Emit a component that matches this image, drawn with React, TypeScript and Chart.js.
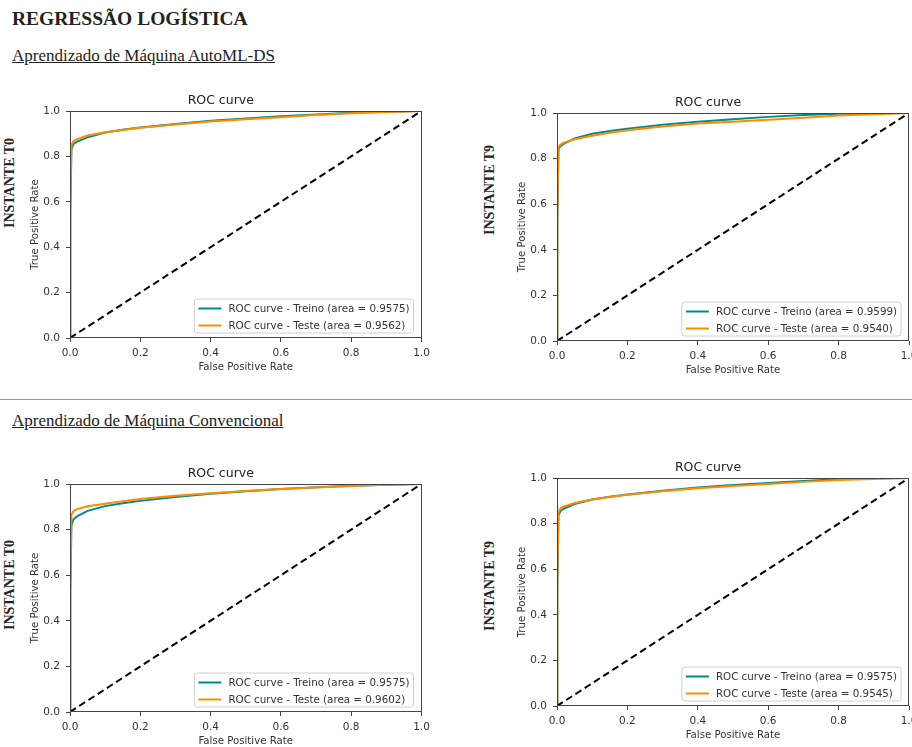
import React, { useEffect, useRef } from "react";
import { Chart, registerables } from "chart.js";

Chart.register(...registerables);

// ---------- data ----------
const fprGrid = [0, 0.001, 0.004, 0.01, 0.02, 0.05, 0.1, 0.15, 0.2, 0.3, 0.4, 0.5, 0.6, 0.7, 0.8, 0.9, 1.0];

const automlT0Treino = [0, 0.55, 0.83, 0.855, 0.865, 0.884, 0.905, 0.917, 0.927, 0.943, 0.957, 0.967, 0.977, 0.985, 0.992, 0.997, 1];
const automlT0Teste = [0, 0.6, 0.85, 0.868, 0.876, 0.892, 0.906, 0.916, 0.926, 0.941, 0.954, 0.964, 0.973, 0.982, 0.99, 0.996, 1];
const automlT9Treino = [0, 0.5, 0.84, 0.856, 0.866, 0.888, 0.909, 0.921, 0.931, 0.948, 0.962, 0.973, 0.983, 0.991, 0.997, 0.999, 1];
const automlT9Teste = [0, 0.55, 0.85, 0.862, 0.87, 0.885, 0.9, 0.913, 0.924, 0.941, 0.954, 0.962, 0.97, 0.979, 0.989, 0.995, 1];
const convT0Treino = [0, 0.52, 0.82, 0.845, 0.858, 0.882, 0.903, 0.916, 0.926, 0.943, 0.957, 0.968, 0.978, 0.986, 0.992, 0.997, 1];
const convT0Teste = [0, 0.55, 0.865, 0.882, 0.89, 0.902, 0.913, 0.924, 0.934, 0.948, 0.959, 0.969, 0.978, 0.985, 0.991, 0.997, 1];
const convT9Treino = [0, 0.5, 0.835, 0.855, 0.866, 0.886, 0.906, 0.918, 0.928, 0.944, 0.958, 0.969, 0.978, 0.987, 0.995, 0.999, 1];
const convT9Teste = [0, 0.55, 0.85, 0.868, 0.875, 0.89, 0.906, 0.917, 0.927, 0.942, 0.955, 0.965, 0.974, 0.983, 0.991, 0.996, 1];

const aucTreino = ["0.9575", "0.9599", "0.9575", "0.9575"];
const aucTeste = ["0.9562", "0.9540", "0.9602", "0.9545"];

const chanceX = [0, 1];
const chanceY = [0, 1];

const axisTicks = [0, 0.2, 0.4, 0.6, 0.8, 1.0];

const pageTitle = "REGRESSÃO LOGÍSTICA";
const sectionTitles = ["Aprendizado de Máquina AutoML-DS", "Aprendizado de Máquina Convencional"];
const instantLabels = ["INSTANTE T0", "INSTANTE T9"];

// ---------- styles ----------
const TEAL = "#008b8b";
const ORANGE = "#ff8c00";
const SANS = "'DejaVu Sans', sans-serif";
const SERIF = "'Liberation Serif', 'Times New Roman', serif";

const framePlugin = {
  id: "frame",
  afterDatasetsDraw(chart: any) {
    const { ctx, chartArea } = chart;
    ctx.save();
    ctx.strokeStyle = "#444";
    ctx.lineWidth = 1;
    ctx.strokeRect(
      Math.round(chartArea.left) + 0.5,
      Math.round(chartArea.top) + 0.5,
      Math.round(chartArea.right - chartArea.left) - 1,
      Math.round(chartArea.bottom - chartArea.top) - 1
    );
    ctx.restore();
  },
};

const legendPlugin = {
  id: "rocLegend",
  afterDraw(chart: any) {
    const { ctx, chartArea } = chart;
    const items = chart.data.datasets.filter((d: any) => d.inLegend);
    ctx.save();
    ctx.font = `10.3px ${SANS}`;
    const textW = Math.max(...items.map((d: any) => ctx.measureText(d.label).width));
    const w = 34 + textW + 4;
    const h = 34;
    const x = chartArea.right - 8 - w;
    const y = chartArea.bottom - 5 - h;
    ctx.beginPath();
    const r = 3;
    ctx.moveTo(x + r, y);
    ctx.lineTo(x + w - r, y);
    ctx.quadraticCurveTo(x + w, y, x + w, y + r);
    ctx.lineTo(x + w, y + h - r);
    ctx.quadraticCurveTo(x + w, y + h, x + w - r, y + h);
    ctx.lineTo(x + r, y + h);
    ctx.quadraticCurveTo(x, y + h, x, y + h - r);
    ctx.lineTo(x, y + r);
    ctx.quadraticCurveTo(x, y, x + r, y);
    ctx.closePath();
    ctx.fillStyle = "rgba(255,255,255,0.85)";
    ctx.fill();
    ctx.strokeStyle = "#d0d0d0";
    ctx.lineWidth = 1;
    ctx.stroke();
    items.forEach((d: any, i: number) => {
      const cy = y + 9.5 + i * 17;
      ctx.beginPath();
      ctx.strokeStyle = d.borderColor;
      ctx.lineWidth = 2;
      ctx.moveTo(x + 4, cy);
      ctx.lineTo(x + 27, cy);
      ctx.stroke();
      ctx.fillStyle = "#333";
      ctx.textBaseline = "middle";
      ctx.textAlign = "left";
      ctx.fillText(d.label, x + 34, cy + 0.5);
    });
    ctx.restore();
  },
};

type PanelProps = {
  left: number;
  top: number;
  width: number;
  height: number;
  padRight: number;
  treino: number[];
  teste: number[];
  auc1: string;
  auc2: string;
};

function RocPanel(p: PanelProps) {
  const ref = useRef<HTMLCanvasElement | null>(null);
  useEffect(() => {
    if (!ref.current) return;
    const tickFont = { family: SANS, size: 10.5 };
    const titleFont = { family: SANS, size: 10.2 };
    const chart = new Chart(ref.current, {
      type: "line",
      data: {
        datasets: [
          {
            label: `ROC curve - Treino (area = ${p.auc1})`,
            data: fprGrid.map((x, i) => ({ x, y: p.treino[i] })),
            borderColor: TEAL,
            backgroundColor: TEAL,
            borderWidth: 2,
            pointRadius: 0,
            tension: 0,
            order: 2,
            inLegend: true,
          } as any,
          {
            label: `ROC curve - Teste (area = ${p.auc2})`,
            data: fprGrid.map((x, i) => ({ x, y: p.teste[i] })),
            borderColor: ORANGE,
            backgroundColor: ORANGE,
            borderWidth: 2,
            pointRadius: 0,
            tension: 0,
            order: 1,
            inLegend: true,
          } as any,
          {
            label: "chance",
            data: chanceX.map((x, i) => ({ x, y: chanceY[i] })),
            borderColor: "#000",
            borderWidth: 2,
            borderDash: [7, 4],
            pointRadius: 0,
            order: 0,
            inLegend: false,
          } as any,
        ],
      },
      options: {
        animation: false,
        responsive: false,
        events: [],
        layout: { padding: { left: 0, right: p.padRight, top: 0, bottom: 0 } },
        plugins: {
          legend: { display: false },
          tooltip: { enabled: false },
          title: {
            display: true,
            text: "ROC curve",
            color: "#222",
            font: { family: SANS, size: 12.5, weight: "normal" },
            padding: { top: 5, bottom: 3 },
          },
        },
        scales: {
          x: {
            type: "linear",
            min: 0,
            max: 1,
            afterBuildTicks: (s: any) => {
              s.ticks = axisTicks.map((v) => ({ value: v }));
            },
            afterFit: (s: any) => {
              s.height = 40;
              s.paddingLeft = 0;
              s.paddingRight = 0;
            },
            ticks: {
              callback: (v: any) => Number(v).toFixed(1),
              font: tickFont,
              color: "#333",
              padding: 4.5,
              maxRotation: 0,
              autoSkip: false,
            },
            grid: { drawOnChartArea: false, drawTicks: true, tickLength: 4, color: "#444" },
            border: { display: false },
            title: {
              display: true,
              text: "False Positive Rate",
              color: "#333",
              font: titleFont,
              padding: { top: 0, bottom: 5 },
            },
          },
          y: {
            type: "linear",
            min: 0,
            max: 1,
            afterBuildTicks: (s: any) => {
              s.ticks = axisTicks.map((v) => ({ value: v }));
            },
            afterFit: (s: any) => {
              s.width = 50;
              s.paddingTop = 0;
              s.paddingBottom = 0;
            },
            ticks: {
              callback: (v: any) => Number(v).toFixed(1),
              font: tickFont,
              color: "#333",
              padding: 6,
              autoSkip: false,
            },
            grid: { drawOnChartArea: false, drawTicks: true, tickLength: 4, color: "#444" },
            border: { display: false },
            title: {
              display: true,
              text: "True Positive Rate",
              color: "#333",
              font: titleFont,
              padding: { top: 9, bottom: 0 },
            },
          },
        },
      } as any,
      plugins: [framePlugin, legendPlugin],
    });
    return () => chart.destroy();
  }, []);
  return (
    <canvas
      ref={ref}
      width={p.width}
      height={p.height}
      style={{ position: "absolute", left: p.left, top: p.top, width: p.width, height: p.height, display: "block" }}
    />
  );
}

function RotLabel({ text, cx, cy }: { text: string; cx: number; cy: number }) {
  return (
    <div
      style={{
        position: "absolute",
        left: cx,
        top: cy,
        transform: "translate(-50%, -50%) rotate(-90deg)",
        whiteSpace: "nowrap",
        fontFamily: SERIF,
        fontWeight: "bold",
        fontSize: 14,
        lineHeight: "14px",
        color: "#222",
      }}
    >
      {text}
    </div>
  );
}

export default function App() {
  const panels = [
    { left: 20, top: 88, width: 410, height: 290, padRight: 8.5, treino: automlT0Treino, teste: automlT0Teste, auc1: aucTreino[0], auc2: aucTeste[0] },
    { left: 507, top: 90, width: 405, height: 291, padRight: 3, treino: automlT9Treino, teste: automlT9Teste, auc1: aucTreino[1], auc2: aucTeste[1] },
    { left: 20, top: 461, width: 410, height: 291, padRight: 8.5, treino: convT0Treino, teste: convT0Teste, auc1: aucTreino[2], auc2: aucTeste[2] },
    { left: 507, top: 455, width: 405, height: 291, padRight: 3, treino: convT9Treino, teste: convT9Teste, auc1: aucTreino[3], auc2: aucTeste[3] },
  ];
  const subStyle: React.CSSProperties = {
    position: "absolute",
    left: 12,
    fontFamily: SERIF,
    fontSize: 17,
    lineHeight: "17px",
    color: "#222",
    textDecoration: "underline",
    whiteSpace: "nowrap",
  };
  return (
    <div style={{ position: "absolute", left: 0, top: 0, width: 912, height: 747, overflow: "hidden", background: "#fff" }}>
      <div
        style={{
          position: "absolute",
          left: 12,
          top: 8.7,
          fontFamily: SERIF,
          fontWeight: "bold",
          fontSize: 19.5,
          lineHeight: "19.5px",
          color: "#222",
          whiteSpace: "nowrap",
        }}
      >
        {pageTitle}
      </div>
      <div style={{ ...subStyle, top: 46.8 }}>{sectionTitles[0]}</div>
      <div style={{ position: "absolute", left: 0, top: 399, width: 912, height: 1, background: "#7a9ad6" }} />
      <div style={{ ...subStyle, top: 411.8 }}>{sectionTitles[1]}</div>
      {panels.map((p, i) => (
        <RocPanel key={i} {...p} />
      ))}
      <RotLabel text={instantLabels[0]} cx={10} cy={183} />
      <RotLabel text={instantLabels[1]} cx={490} cy={190} />
      <RotLabel text={instantLabels[0]} cx={10} cy={585} />
      <RotLabel text={instantLabels[1]} cx={490} cy={586} />
    </div>
  );
}
